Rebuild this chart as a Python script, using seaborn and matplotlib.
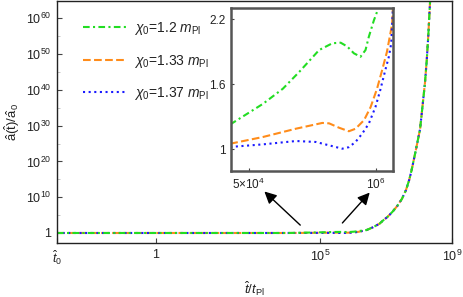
import numpy as np
import pandas as pd
import matplotlib
matplotlib.use("Agg")
import matplotlib.pyplot as plt
import seaborn as sns
from matplotlib.ticker import FixedLocator, NullLocator, FixedFormatter, NullFormatter

# ---------------- data ----------------
t_flat = [1e-3, 1e-1, 1e1, 1e3, 1e4]
a_flat = [1.0, 1.0, 1.0, 1.0, 1.0]

t_rise = [2.57e6, 3.98e6, 6.3e6, 8.3e6, 1.1e7, 1.58e7, 2.19e7, 3.0e7, 4.0e7, 5.0e7,
          6.0e7, 7.9e7, 1.07e8, 1.29e8, 1.51e8, 1.7e8, 1.9e8, 2.15e8, 2.8e8]
a_rise = [6.9, 4.0e1, 4.0e2, 4.0e3, 3.2e4, 1.0e6, 4.0e7, 3.2e9, 1.0e12, 6.3e14,
          6.3e17, 1.0e23, 1.0e29, 1.0e36, 1.0e42, 1.0e48, 1.0e55, 3.2e64, 1.0e82]

t_green = [3.24e4, 7.0e4, 1.12e5, 1.65e5, 2.63e5, 3.6e5, 4.37e5, 5.1e5, 5.97e5,
           6.98e5, 7.85e5, 8.49e5, 9.55e5, 1.03e6]
a_green = [1.23, 1.42, 1.56, 1.716, 1.917, 1.98, 1.985, 1.95, 1.887,
           1.855, 1.917, 2.04, 2.19, 2.27]

t_orange = [3.24e4, 7.0e4, 1.53e5, 2.84e5, 3.33e5, 4.2e5, 5.3e5, 6.2e5, 7.59e5,
            8.85e5, 1.03e6, 1.16e6, 1.30e6, 1.41e6, 1.47e6]
a_orange = [1.052, 1.114, 1.191, 1.244, 1.24, 1.20, 1.167, 1.19, 1.27,
            1.39, 1.56, 1.73, 1.90, 2.07, 2.16]

t_blue = [3.24e4, 7.0e4, 1.53e5, 2.44e5, 3.33e5, 4.54e5, 5.3e5, 6.2e5, 7.26e5,
          8.49e5, 9.93e5, 1.11e6, 1.25e6, 1.36e6, 1.44e6]
a_blue = [1.022, 1.046, 1.077, 1.068, 1.037, 1.006, 1.02, 1.068, 1.145,
          1.238, 1.392, 1.546, 1.73, 1.855, 1.98]

labels = [r"$\chi_0$=1.2 $m_{\mathrm{Pl}}$",
          r"$\chi_0$=1.33 $m_{\mathrm{Pl}}$",
          r"$\chi_0$=1.37 $m_{\mathrm{Pl}}$"]
colors = ["#22dd22", "#ff8c1a", "#1a1aff"]
styles = [(0, (3.2, 1.6, 1.0, 1.6)), (0, (3.7, 1.6)), (0, (1.0, 1.7))]

main_xticks = [1e-3, 1.0, 1e5, 1e9]
main_xticklabels = [r"$\hat{t}_0$", "1", r"$10^5$", r"$10^9$"]
main_yticks = [1e0, 1e10, 1e20, 1e30, 1e40, 1e50, 1e60]
main_yticklabels = ["1"] + [r"$10^{%d}$" % k for k in range(10, 70, 10)]
inset_xticks = [5e4, 1e6]
inset_xticklabels = [r"5$\times$$10^4$", r"$10^6$"]
inset_yticks = [1.0, 1.6, 2.2]
inset_yticklabels = ["1", "1.6", "2.2"]

series = []
for tg, ag in [(t_green, a_green), (t_orange, a_orange), (t_blue, a_blue)]:
    series.append(pd.DataFrame({"t": t_flat + tg + t_rise,
                                "a": a_flat + ag + a_rise}))

# ---------------- style ----------------
sns.set_theme(style="ticks")
plt.rcParams["font.family"] = ["Liberation Sans", "DejaVu Sans"]
plt.rcParams["mathtext.fontset"] = "custom"
plt.rcParams["mathtext.rm"] = "Liberation Sans"
plt.rcParams["mathtext.it"] = "Liberation Sans:italic"
plt.rcParams["mathtext.bf"] = "Liberation Sans:bold"

fig = plt.figure(figsize=(4.63, 2.97), dpi=100)
ax = fig.add_axes([57 / 463, 1 - 243 / 297, (452 - 57) / 463, 242.5 / 297])
ax.set_xscale("log")
ax.set_yscale("log")

draw_order = [1, 2, 0]
for i in draw_order:
    sns.lineplot(data=series[i], x="t", y="a", ax=ax, color=colors[i],
                 linestyle=styles[i], linewidth=1.5, label=labels[i],
                 sort=True, estimator=None)

ax.set_xlim(1e-3, 1e9)
ax.set_ylim(10.0 ** -2.8, 1e65)
ax.xaxis.set_major_locator(FixedLocator(main_xticks))
ax.xaxis.set_major_formatter(FixedFormatter(main_xticklabels))
ax.xaxis.set_minor_locator(NullLocator())
ax.xaxis.set_minor_formatter(NullFormatter())
ax.yaxis.set_major_locator(FixedLocator(main_yticks))
ax.yaxis.set_major_formatter(FixedFormatter(main_yticklabels))
ax.yaxis.set_minor_locator(FixedLocator([10.0 ** k for k in range(5, 65, 10)]))
ax.yaxis.set_minor_formatter(NullFormatter())
ax.tick_params(axis="both", which="major", direction="in", length=3.5,
               width=0.8, color="#444444", labelsize=9, pad=4,
               labelcolor="#222222")
ax.tick_params(axis="y", which="minor", direction="in", length=2.5,
               width=0.6, color="#bbbbbb")
for s in ax.spines.values():
    s.set_color("#222222")
    s.set_linewidth(1.0)

ax.set_xlabel(r"$\hat{t}/t_{\mathrm{Pl}}$", fontsize=9.5, color="#222222", labelpad=9)
ax.set_ylabel(r"$\hat{\mathrm{a}}(\hat{\mathrm{t}})/\hat{\mathrm{a}}_0$", fontsize=9.5,
              color="#222222")
ax.yaxis.set_label_coords(-0.088, 0.5)

# legend in the original order
h, l = ax.get_legend_handles_labels()
order = [l.index(lab) for lab in labels]
leg = ax.legend([h[k] for k in order], [l[k] for k in order],
                loc="upper left", bbox_to_anchor=(0.035, 0.97), frameon=False,
                handlelength=3.1, handletextpad=0.55, labelspacing=1.1,
                fontsize=10)
for t in leg.get_texts():
    t.set_color("#222222")

# arrows
ax.annotate("", xy=(10 ** 3.3, 10 ** 11.6), xytext=(10 ** 4.39, 10 ** 2.2),
            arrowprops=dict(arrowstyle="-|>", color="black", lw=1.0,
                            mutation_scale=18, shrinkA=0, shrinkB=0))
ax.annotate("", xy=(10 ** 6.5, 10 ** 11.3), xytext=(10 ** 5.67, 10 ** 2.8),
            arrowprops=dict(arrowstyle="-|>", color="black", lw=1.0,
                            mutation_scale=18, shrinkA=0, shrinkB=0))

# ---------------- inset ----------------
ins = fig.add_axes([231 / 463, 1 - 171 / 297, (393 - 231) / 463, (171 - 7.5) / 297])
ins.set_xscale("log")
for i in draw_order:
    d = series[i][(series[i]["t"] > 1e4) & (series[i]["t"] < 3e6)]
    sns.lineplot(data=d, x="t", y="a", ax=ins, color=colors[i],
                 linestyle=styles[i], linewidth=1.5, legend=False,
                 sort=True, estimator=None)
ins.set_xlim(3.3e4, 1.5e6)
ins.set_ylim(0.80, 2.31)
ins.xaxis.set_major_locator(FixedLocator(inset_xticks))
ins.xaxis.set_major_formatter(FixedFormatter(inset_xticklabels))
ins.xaxis.set_minor_locator(NullLocator())
ins.xaxis.set_minor_formatter(NullFormatter())
ins.yaxis.set_major_locator(FixedLocator(inset_yticks))
ins.yaxis.set_major_formatter(FixedFormatter(inset_yticklabels))
ins.tick_params(axis="both", which="major", direction="in", length=2.5,
                width=0.8, color="#444444", labelsize=8.5, pad=4,
                labelcolor="#222222")
ins.set_xlabel("")
ins.set_ylabel("")
for s in ins.spines.values():
    s.set_color("#555555")
    s.set_linewidth(1.8)
ins.set_facecolor("white")

fig.savefig("out.png", dpi=100)
